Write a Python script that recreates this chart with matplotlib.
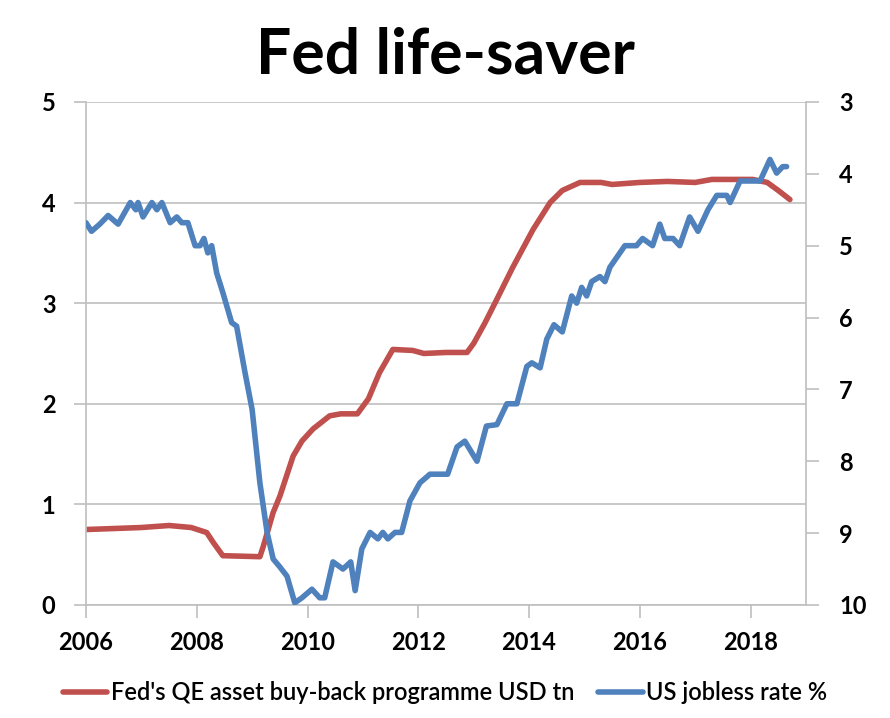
import matplotlib
matplotlib.use("Agg")
import matplotlib.pyplot as plt

# Fed balance sheet (QE), USD tn
qe_years = [2006.0, 2006.5, 2007.0, 2007.5, 2007.7, 2007.9, 2008.18, 2008.3, 2008.47,
            2009.14, 2009.2, 2009.38, 2009.5, 2009.74, 2009.9, 2010.1, 2010.4, 2010.6,
            2010.9, 2011.1, 2011.3, 2011.54, 2011.9, 2012.1, 2012.5, 2012.88, 2013.0,
            2013.2, 2013.42, 2013.7, 2014.07, 2014.38, 2014.6, 2014.92, 2015.3, 2015.5,
            2016.0, 2016.5, 2017.0, 2017.3, 2017.6, 2018.04, 2018.3, 2018.5, 2018.71]
qe_vals = [0.75, 0.76, 0.77, 0.79, 0.78, 0.77, 0.72, 0.62, 0.49,
           0.48, 0.58, 0.92, 1.08, 1.48, 1.63, 1.75, 1.88, 1.9,
           1.9, 2.05, 2.31, 2.54, 2.53, 2.5, 2.51, 2.51, 2.6,
           2.8, 3.04, 3.35, 3.73, 4.0, 4.12, 4.2, 4.2, 4.18,
           4.2, 4.21, 4.2, 4.23, 4.23, 4.23, 4.2, 4.12, 4.03]

# US unemployment rate, % (right axis, inverted)
jobless_years = [2006.0, 2006.1, 2006.25, 2006.4, 2006.58, 2006.8, 2006.9, 2006.94, 2007.03,
                 2007.19, 2007.28, 2007.37, 2007.52, 2007.64, 2007.73, 2007.84, 2007.97,
                 2008.06, 2008.13, 2008.2, 2008.27, 2008.36, 2008.47, 2008.63, 2008.72,
                 2008.87, 2009.0, 2009.14, 2009.27, 2009.38, 2009.5, 2009.63, 2009.77,
                 2009.9, 2010.08, 2010.22, 2010.31, 2010.46, 2010.64, 2010.78, 2010.86,
                 2010.98, 2011.13, 2011.27, 2011.36, 2011.45, 2011.58, 2011.7, 2011.85,
                 2012.03, 2012.21, 2012.53, 2012.7, 2012.84, 2013.06, 2013.23, 2013.42,
                 2013.6, 2013.78, 2013.96, 2014.05, 2014.2, 2014.32, 2014.45, 2014.6,
                 2014.77, 2014.86, 2014.95, 2015.04, 2015.13, 2015.28, 2015.37, 2015.46,
                 2015.73, 2015.94, 2016.05, 2016.23, 2016.36, 2016.45, 2016.6, 2016.72,
                 2016.9, 2017.05, 2017.23, 2017.39, 2017.57, 2017.63, 2017.81, 2018.17,
                 2018.35, 2018.47, 2018.58, 2018.65]
jobless_vals = [4.68, 4.8, 4.7, 4.58, 4.7, 4.4, 4.5, 4.4, 4.6,
                4.4, 4.5, 4.4, 4.68, 4.6, 4.68, 4.68, 5.0,
                5.0, 4.9, 5.1, 5.0, 5.38, 5.65, 6.07, 6.12,
                6.76, 7.28, 8.3, 8.99, 9.36, 9.47, 9.6, 9.97,
                9.9, 9.78, 9.9, 9.9, 9.4, 9.5, 9.4, 9.8,
                9.22, 8.99, 9.08, 8.99, 9.08, 8.99, 8.99, 8.55,
                8.3, 8.18, 8.18, 7.8, 7.72, 8.0, 7.51, 7.49,
                7.2, 7.2, 6.68, 6.63, 6.7, 6.3, 6.1, 6.2,
                5.7, 5.8, 5.58, 5.7, 5.5, 5.43, 5.5, 5.3,
                5.0, 5.0, 4.9, 5.0, 4.7, 4.9, 4.9, 5.0,
                4.6, 4.8, 4.5, 4.3, 4.3, 4.4, 4.1, 4.1,
                3.8, 3.99, 3.9, 3.9]

x_ticks = [2006, 2008, 2010, 2012, 2014, 2016, 2018]
left_ticks = [0, 1, 2, 3, 4, 5]
right_ticks = [3, 4, 5, 6, 7, 8, 9, 10]

RED = "#C0504D"
BLUE = "#4F81BD"
GRID = "#BFBFBF"

plt.rcParams["font.family"] = ["Lato", "DejaVu Sans"]

fig = plt.figure(figsize=(8.9, 7.18), dpi=100)
ax = fig.add_axes([0.0966, 0.1574, 0.809, 0.7006])
ax2 = ax.twinx()

ax.plot(qe_years, qe_vals, color=RED, lw=4, solid_capstyle="round",
        solid_joinstyle="round", label="Fed's QE asset buy-back programme USD tn")
ax2.plot(jobless_years, jobless_vals, color=BLUE, lw=4, solid_capstyle="round",
         solid_joinstyle="round", label="US jobless rate %")

ax.set_xlim(2006, 2019)
ax.set_ylim(0, 5)
ax2.set_ylim(10, 3)

ax.set_xticks(x_ticks)
ax.set_yticks(left_ticks)
ax2.set_yticks(right_ticks)
ax.grid(axis="y", color=GRID, lw=1.2)
ax.set_axisbelow(True)

for a in (ax, ax2):
    for s in a.spines.values():
        s.set_visible(False)
    a.spines["left"].set_visible(a is ax)
    a.spines["right"].set_visible(a is ax2)
    a.spines["bottom"].set_visible(a is ax)
    for s in ("left", "right", "bottom"):
        a.spines[s].set_color(GRID)
        a.spines[s].set_linewidth(1.2)

ax.tick_params(axis="both", colors=GRID, length=9, width=1.2, labelcolor="black",
               labelsize=17)
ax.tick_params(axis="y", pad=13)
ax.tick_params(axis="x", pad=10)
ax2.tick_params(axis="y", colors=GRID, length=9, width=1.2, labelcolor="black",
                labelsize=17, pad=15)
for lab in ax.get_xticklabels() + ax.get_yticklabels() + ax2.get_yticklabels():
    lab.set_fontweight("bold")

fig.text(0.5, 0.923, "Fed life-saver", ha="center", va="center",
         fontsize=45, fontweight="bold")

h1, l1 = ax.get_legend_handles_labels()
h2, l2 = ax2.get_legend_handles_labels()
fig.legend(h1 + h2, l1 + l2, loc="center", bbox_to_anchor=(0.5, 0.035), ncol=2,
           frameon=False, handlelength=1.9, handletextpad=0.15,
           columnspacing=1.0, prop={"size": 17, "weight": "semibold"})

fig.savefig("out.png", dpi=100)
